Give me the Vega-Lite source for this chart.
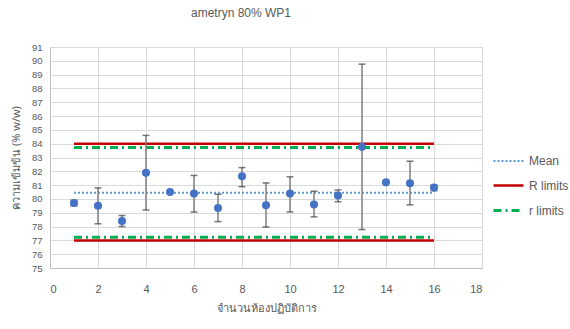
{
  "$schema": "https://vega.github.io/schema/vega-lite/v6.json",
  "width": 432,
  "height": 221,
  "autosize": {"type": "none"},
  "padding": {"left": 50, "top": 47, "right": 88, "bottom": 61},
  "background": "white",
  "title": {
    "text": "ametryn 80% WP1",
    "font": "Liberation Sans Narrow, Liberation Sans, sans-serif",
    "fontSize": 12,
    "fontWeight": "normal",
    "color": "#595959",
    "anchor": "middle",
    "frame": "group",
    "dx": -25,
    "offset": 22
  },
  "config": {
    "view": {"stroke": null},
    "axis": {
      "labelFont": "Liberation Sans Narrow, Liberation Sans, sans-serif",
      "titleFont": "Liberation Sans Narrow, Noto Sans, sans-serif",
      "labelColor": "#595959",
      "titleColor": "#595959",
      "gridColor": "#d9d9d9",
      "gridWidth": 1,
      "domainColor": "#bfbfbf",
      "ticks": false,
      "labelOverlap": false,
      "titleFontWeight": "normal"
    },
    "axisY": {"tickCount": 30, "labelFontSize": 9.5, "labelPadding": 8, "titleFontSize": 11, "titlePadding": 10},
    "axisX": {"tickCount": 30, "labelFontSize": 11, "labelPadding": 15, "titleFontSize": 11, "titlePadding": 8}
  },
  "datasets": {
    "labs": [
      {"lab": 1, "value": 79.7, "lo": 79.5, "hi": 79.9},
      {"lab": 2, "value": 79.5, "lo": 78.2, "hi": 80.8},
      {"lab": 3, "value": 78.4, "lo": 78.0, "hi": 78.8},
      {"lab": 4, "value": 81.9, "lo": 79.2, "hi": 84.6},
      {"lab": 5, "value": 80.5, "lo": 80.45, "hi": 80.55},
      {"lab": 6, "value": 80.4, "lo": 79.05, "hi": 81.7},
      {"lab": 7, "value": 79.35, "lo": 78.36, "hi": 80.34},
      {"lab": 8, "value": 81.64, "lo": 80.89, "hi": 82.27},
      {"lab": 9, "value": 79.54, "lo": 77.97, "hi": 81.16},
      {"lab": 10, "value": 80.39, "lo": 79.06, "hi": 81.6},
      {"lab": 11, "value": 79.6, "lo": 78.7, "hi": 80.56},
      {"lab": 12, "value": 80.24, "lo": 79.8, "hi": 80.65},
      {"lab": 13, "value": 83.77, "lo": 77.78, "hi": 89.76},
      {"lab": 14, "value": 81.2, "lo": 81.15, "hi": 81.25},
      {"lab": 15, "value": 81.14, "lo": 79.57, "hi": 82.73},
      {"lab": 16, "value": 80.82, "lo": 80.6, "hi": 81.0}
    ],
    "lines": [
      {"series": "Mean", "grp": "m", "x": 1, "y": 80.45},
      {"series": "Mean", "grp": "m", "x": 16, "y": 80.45},
      {"series": "R limits", "grp": "Ru", "x": 1, "y": 84},
      {"series": "R limits", "grp": "Ru", "x": 16, "y": 84},
      {"series": "R limits", "grp": "Rl", "x": 1, "y": 77},
      {"series": "R limits", "grp": "Rl", "x": 16, "y": 77},
      {"series": "r limits", "grp": "ru", "x": 1, "y": 83.72},
      {"series": "r limits", "grp": "ru", "x": 16, "y": 83.72},
      {"series": "r limits", "grp": "rl", "x": 1, "y": 77.23},
      {"series": "r limits", "grp": "rl", "x": 16, "y": 77.23}
    ]
  },
  "layer": [
    {
      "data": {"name": "lines"},
      "mark": {"type": "line", "clip": true},
      "encoding": {
        "x": {
          "field": "x", "type": "quantitative",
          "scale": {"domain": [0, 18], "nice": false},
          "axis": {"values": [0, 2, 4, 6, 8, 10, 12, 14, 16, 18], "format": "d", "title": "จำนวนห้องปฏิบัติการ"}
        },
        "y": {
          "field": "y", "type": "quantitative",
          "scale": {"domain": [75, 91], "nice": false, "zero": false},
          "axis": {"values": [75, 76, 77, 78, 79, 80, 81, 82, 83, 84, 85, 86, 87, 88, 89, 90, 91], "format": "d", "title": "ความเข้มข้น (% w/w)"}
        },
        "detail": {"field": "grp"},
        "color": {
          "field": "series", "type": "nominal",
          "scale": {"domain": ["Mean", "R limits", "r limits"], "range": ["#5B9BD5", "#C00000", "#00B050"]},
          "legend": {
            "title": null,
            "orient": "none",
            "legendX": 442,
            "legendY": 98,
            "symbolType": "stroke",
            "symbolSize": 900,
            "labelFont": "Liberation Sans Narrow, Liberation Sans, sans-serif",
            "labelFontSize": 12,
            "labelColor": "#595959",
            "rowPadding": 2,
            "labelOffset": 4
          }
        },
        "strokeDash": {
          "field": "series", "type": "nominal",
          "scale": {"domain": ["Mean", "R limits", "r limits"], "range": [[2, 2], [1, 0], [8, 4, 2, 4]]},
          "legend": null
        },
        "strokeWidth": {
          "field": "series", "type": "nominal",
          "scale": {"domain": ["Mean", "R limits", "r limits"], "range": [2, 3, 3]},
          "legend": null
        }
      }
    },
    {
      "data": {"name": "labs"},
      "mark": {"type": "rule", "color": "#7f7f7f", "strokeWidth": 1.5},
      "encoding": {
        "x": {"field": "lab", "type": "quantitative"},
        "y": {"field": "lo", "type": "quantitative"},
        "y2": {"field": "hi"}
      }
    },
    {
      "data": {"name": "labs"},
      "mark": {"type": "tick", "orient": "horizontal", "color": "#404040", "size": 7, "thickness": 1.5},
      "encoding": {
        "x": {"field": "lab", "type": "quantitative"},
        "y": {"field": "lo", "type": "quantitative"}
      }
    },
    {
      "data": {"name": "labs"},
      "mark": {"type": "tick", "orient": "horizontal", "color": "#404040", "size": 7, "thickness": 1.5},
      "encoding": {
        "x": {"field": "lab", "type": "quantitative"},
        "y": {"field": "hi", "type": "quantitative"}
      }
    },
    {
      "data": {"name": "labs"},
      "mark": {"type": "point", "shape": "circle", "filled": true, "color": "#4472C4", "opacity": 1, "size": 65},
      "encoding": {
        "x": {"field": "lab", "type": "quantitative"},
        "y": {"field": "value", "type": "quantitative"}
      }
    }
  ]
}
